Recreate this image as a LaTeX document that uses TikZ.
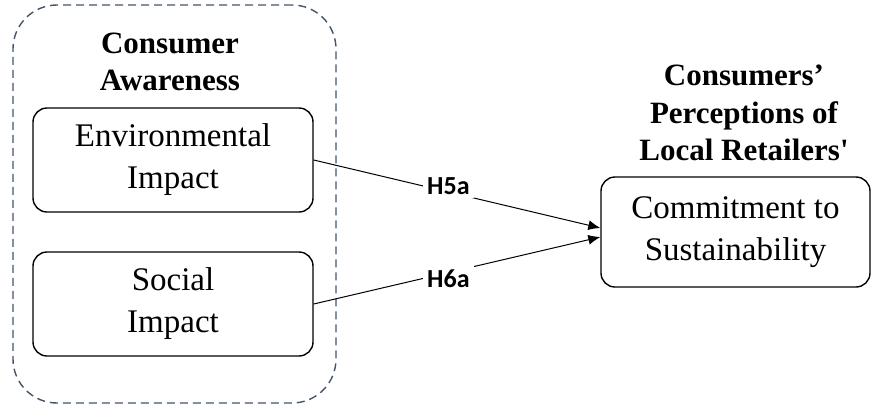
\documentclass[tikz,border=0pt]{standalone}
\usepackage{fontspec}
\setmainfont{Liberation Serif}
\newfontfamily\hypfont{Carlito}
\usetikzlibrary{arrows.meta,positioning}
\definecolor{dashcol}{HTML}{44546A}

\begin{document}
\begin{tikzpicture}[x=0.5pt,y=-0.5pt,
    box/.style={draw,rounded corners=7pt,line width=0.7pt,minimum width=140pt,minimum height=52pt,align=center,font=\fontsize{16.5}{21}\selectfont},
    title/.style={align=center,font=\fontsize{15.5}{18.75}\selectfont\bfseries},
    hyp/.style={fill=white,inner sep=2pt,font=\hypfont\bfseries\fontsize{13}{15}\selectfont},
    link/.style={line width=0.5pt,-{Latex[length=6pt,width=5pt]}}]
  \useasboundingbox (0,0) rectangle (873,408);

  \node (grp) [draw=dashcol,dash pattern=on 4pt off 2.5pt,line width=0.7pt,rounded corners=22pt,minimum width=161.5pt,minimum height=199pt] at (174.5,204) {};
  \node (aware) [title] at (170,62) {Consumer\\Awareness};
  \node (env) [box] at (173,160) {Environmental\\Impact};
  \node (soc) [box] at (173,304) {Social\\Impact};

  \node (percep) [title] at (744,113) {Consumers’\\Perceptions of\\Local Retailers\textquotesingle};
  \node (commit) [box,minimum width=134.5pt,minimum height=55pt] at (735.5,232) {Commitment to\\Sustainability};

  \draw[link] (env.east) -- node[hyp,pos=0.47,yshift=3pt]{H5a} ([yshift=2pt]commit.west);
  \draw[link] (soc.east) -- node[hyp,pos=0.47,yshift=-3pt]{H6a} ([yshift=-2.5pt]commit.west);
\end{tikzpicture}
\end{document}
